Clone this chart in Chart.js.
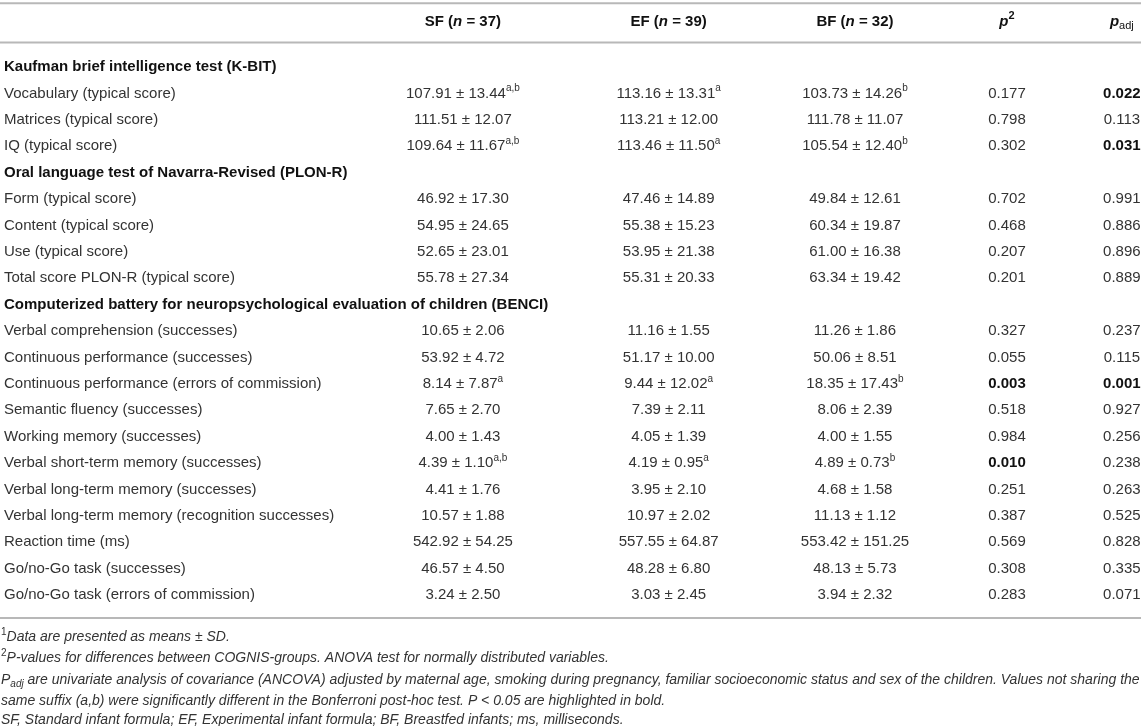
<!DOCTYPE html>
<html>
<head>
<meta charset="utf-8">
<script src="https://cdn.jsdelivr.net/npm/chart.js@4.4.1/dist/chart.umd.min.js"></script>
<style>
  html, body { margin: 0; padding: 0; background: #fff; }
  #wrap { width: 1143px; height: 726px; position: relative; }
</style>
</head>
<body>
<div id="wrap"><canvas id="table"></canvas></div>
<script>
const groupNames = ['SF', 'EF', 'BF'];
const groupN = [37, 39, 32];

const rowLabels = [
  'Kaufman brief intelligence test (K-BIT)',
  'Vocabulary (typical score)',
  'Matrices (typical score)',
  'IQ (typical score)',
  'Oral language test of Navarra-Revised (PLON-R)',
  'Form (typical score)',
  'Content (typical score)',
  'Use (typical score)',
  'Total score PLON-R (typical score)',
  'Computerized battery for neuropsychological evaluation of children (BENCI)',
  'Verbal comprehension (successes)',
  'Continuous performance (successes)',
  'Continuous performance (errors of commission)',
  'Semantic fluency (successes)',
  'Working memory (successes)',
  'Verbal short-term memory (successes)',
  'Verbal long-term memory (successes)',
  'Verbal long-term memory (recognition successes)',
  'Reaction time (ms)',
  'Go/no-Go task (successes)',
  'Go/no-Go task (errors of commission)'
];
const sectionRows = [0, 4, 9];

const sfMean = [null, 107.91, 111.51, 109.64, null, 46.92, 54.95, 52.65, 55.78, null, 10.65, 53.92, 8.14, 7.65, 4.00, 4.39, 4.41, 10.57, 542.92, 46.57, 3.24];
const sfSD   = [null, 13.44, 12.07, 11.67, null, 17.30, 24.65, 23.01, 27.34, null, 2.06, 4.72, 7.87, 2.70, 1.43, 1.10, 1.76, 1.88, 54.25, 4.50, 2.50];
const sfSup  = ['', 'a,b', '', 'a,b', '', '', '', '', '', '', '', '', 'a', '', '', 'a,b', '', '', '', '', ''];

const efMean = [null, 113.16, 113.21, 113.46, null, 47.46, 55.38, 53.95, 55.31, null, 11.16, 51.17, 9.44, 7.39, 4.05, 4.19, 3.95, 10.97, 557.55, 48.28, 3.03];
const efSD   = [null, 13.31, 12.00, 11.50, null, 14.89, 15.23, 21.38, 20.33, null, 1.55, 10.00, 12.02, 2.11, 1.39, 0.95, 2.10, 2.02, 64.87, 6.80, 2.45];
const efSup  = ['', 'a', '', 'a', '', '', '', '', '', '', '', '', 'a', '', '', 'a', '', '', '', '', ''];

const bfMean = [null, 103.73, 111.78, 105.54, null, 49.84, 60.34, 61.00, 63.34, null, 11.26, 50.06, 18.35, 8.06, 4.00, 4.89, 4.68, 11.13, 553.42, 48.13, 3.94];
const bfSD   = [null, 14.26, 11.07, 12.40, null, 12.61, 19.87, 16.38, 19.42, null, 1.86, 8.51, 17.43, 2.39, 1.55, 0.73, 1.58, 1.12, 151.25, 5.73, 2.32];
const bfSup  = ['', 'b', '', 'b', '', '', '', '', '', '', '', '', 'b', '', '', 'b', '', '', '', '', ''];

const pValue = [null, 0.177, 0.798, 0.302, null, 0.702, 0.468, 0.207, 0.201, null, 0.327, 0.055, 0.003, 0.518, 0.984, 0.010, 0.251, 0.387, 0.569, 0.308, 0.283];
const pAdj   = [null, 0.022, 0.113, 0.031, null, 0.991, 0.886, 0.896, 0.889, null, 0.237, 0.115, 0.001, 0.927, 0.256, 0.238, 0.263, 0.525, 0.828, 0.335, 0.071];

const footnotes = [
  [{ t: '1', sup: true }, { t: 'Data are presented as means ± SD.' }],
  [{ t: '2', sup: true }, { t: 'P-values for differences between COGNIS-groups. ANOVA test for normally distributed variables.' }],
  [{ t: 'P' }, { t: 'adj', sub: true }, { t: ' are univariate analysis of covariance (ANCOVA) adjusted by maternal age, smoking during pregnancy, familiar socioeconomic status and sex of the children. Values not sharing the' }],
  [{ t: 'same suffix (a,b) were significantly different in the Bonferroni post-hoc test. P < 0.05 are highlighted in bold.' }],
  [{ t: 'SF, Standard infant formula; EF, Experimental infant formula; BF, Breastfed infants; ms, milliseconds.' }]
];

// ---- layout ----
const colX = [0.35, 40.5, 58.5, 74.8, 88.1, 98.15];  // % of width, column anchors
const headerRow = -1.7;
const ruleRows = [-2.42, -0.93, 20.87];
const footRows = [21.6, 22.38, 23.22, 24.02, 24.72];
const FONT = '"Liberation Sans", Arial, Helvetica, sans-serif';
const TXT = '#333';
const BOLD = '#111';
const SIZE = 15;

const fmt = (v, d) => v.toFixed(d);

// cell positions as points so the scales place them
const rowsWithData = rowLabels.map((_, i) => i).filter(i => !sectionRows.includes(i));
const pts = (col, rows) => rows.map(r => ({ x: colX[col], y: r }));

const datasets = [
  { label: 'labels', data: pts(0, rowLabels.map((_, i) => i)) },
  { label: 'SF', data: pts(1, rowsWithData) },
  { label: 'EF', data: pts(2, rowsWithData) },
  { label: 'BF', data: pts(3, rowsWithData) },
  { label: 'p2', data: pts(4, rowsWithData) },
  { label: 'padj', data: pts(5, rowsWithData) },
  { label: 'header', data: [1, 2, 3, 4, 5].map(c => ({ x: colX[c], y: headerRow })) },
  { label: 'rules', data: ruleRows.map(r => ({ x: 0, y: r })) },
  { label: 'foot', data: footRows.map(r => ({ x: 0, y: r })) }
].map(d => Object.assign(d, { pointRadius: 0, pointHoverRadius: 0, showLine: false }));

// draws a list of text pieces; align 'left' or 'center' around x
function drawRich(ctx, pieces, x, y, align) {
  const widths = pieces.map(p => { ctx.font = p.font; return ctx.measureText(p.t).width; });
  const total = widths.reduce((a, b) => a + b, 0);
  let cx = align === 'center' ? x - total / 2 : align === 'right' ? x - total : x;
  pieces.forEach((p, i) => {
    ctx.font = p.font;
    ctx.fillStyle = p.color || TXT;
    ctx.fillText(p.t, cx, y + (p.dy || 0));
    cx += widths[i];
  });
}

const valueCell = (m, s, sup) => {
  const pieces = [{ t: fmt(m, 2) + ' \u00b1 ' + fmt(s, 2), font: SIZE + 'px ' + FONT }];
  if (sup) pieces.push({ t: sup, font: '10px ' + FONT, dy: -5 });
  return pieces;
};
const pCell = v => {
  const bold = v < 0.05;
  return [{ t: fmt(v, 3), font: (bold ? 'bold ' : '') + SIZE + 'px ' + FONT, color: bold ? BOLD : TXT }];
};

const tablePlugin = {
  id: 'tableText',
  afterDatasetsDraw(chart) {
    const ctx = chart.ctx;
    const meta = k => chart.getDatasetMeta(k).data;
    ctx.save();
    ctx.textBaseline = 'middle';

    // rules
    meta(7).forEach(el => {
      ctx.strokeStyle = '#b8b8b8';
      ctx.lineWidth = 2;
      ctx.beginPath();
      ctx.moveTo(chart.chartArea.left, el.y);
      ctx.lineTo(chart.chartArea.right - 2, el.y);
      ctx.stroke();
    });

    // header
    const hb = 'bold ' + SIZE + 'px ' + FONT;
    const hbi = 'italic bold ' + SIZE + 'px ' + FONT;
    meta(6).forEach((el, i) => {
      let pieces;
      if (i < 3) {
        pieces = [
          { t: groupNames[i] + ' (', font: hb, color: BOLD },
          { t: 'n', font: hbi, color: BOLD },
          { t: ' = ' + groupN[i] + ')', font: hb, color: BOLD }
        ];
      } else if (i === 3) {
        pieces = [
          { t: 'p', font: hbi, color: BOLD },
          { t: '2', font: 'bold 11px ' + FONT, color: BOLD, dy: -6 }
        ];
      } else {
        pieces = [
          { t: 'p', font: hbi, color: BOLD },
          { t: 'adj', font: '11px ' + FONT, color: BOLD, dy: 4 }
        ];
      }
      drawRich(ctx, pieces, el.x, el.y, 'center');
    });

    // row labels
    meta(0).forEach((el, i) => {
      const sec = sectionRows.includes(i);
      drawRich(ctx, [{ t: rowLabels[i], font: (sec ? 'bold ' : '') + SIZE + 'px ' + FONT, color: sec ? BOLD : TXT }], el.x, el.y, 'left');
    });

    // group columns
    const groups = [[sfMean, sfSD, sfSup], [efMean, efSD, efSup], [bfMean, bfSD, bfSup]];
    groups.forEach(([m, s, sup], g) => {
      meta(g + 1).forEach((el, k) => {
        const r = rowsWithData[k];
        drawRich(ctx, valueCell(m[r], s[r], sup[r]), el.x, el.y, 'center');
      });
    });

    // p columns
    meta(4).forEach((el, k) => drawRich(ctx, pCell(pValue[rowsWithData[k]]), el.x, el.y, 'center'));
    meta(5).forEach((el, k) => drawRich(ctx, pCell(pAdj[rowsWithData[k]]), el.x, el.y, 'center'));

    // footnotes
    const fi = 'italic 14px ' + FONT;
    meta(8).forEach((el, i) => {
      const pieces = footnotes[i].map(p => {
        if (p.sup) return { t: p.t, font: '10px ' + FONT, dy: -5 };
        if (p.sub) return { t: p.t, font: 'italic 10px ' + FONT, dy: 4 };
        return { t: p.t, font: fi };
      });
      drawRich(ctx, pieces, chart.chartArea.left + 1, el.y, 'left');
    });
    ctx.restore();
  }
};

new Chart(document.getElementById('table'), {
  type: 'scatter',
  data: { datasets },
  options: {
    responsive: true,
    maintainAspectRatio: false,
    animation: false,
    events: [],
    layout: { padding: 0 },
    plugins: { legend: { display: false }, tooltip: { enabled: false } },
    scales: {
      x: { type: 'linear', min: 0, max: 100, display: false },
      y: { type: 'linear', reverse: true, min: -2.54, max: 24.96, display: false }
    }
  },
  plugins: [tablePlugin]
});
</script>
</body>
</html>
